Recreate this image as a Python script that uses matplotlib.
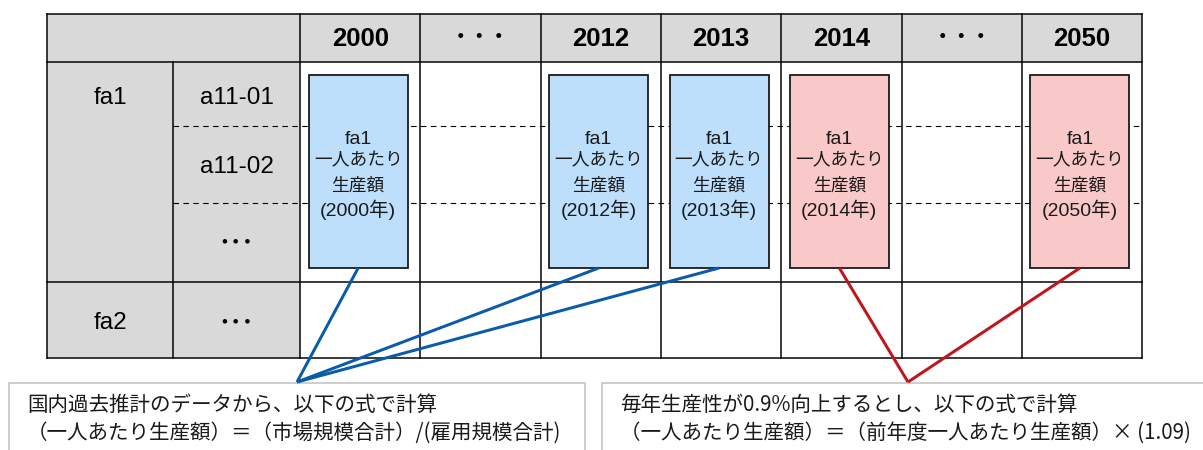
import matplotlib
matplotlib.use("Agg")
import matplotlib.pyplot as plt
from matplotlib.patches import Rectangle

# ---------------- data ----------------
col_labels = ["2000", "・・・", "2012", "2013", "2014", "・・・", "2050"]
group_labels = ["fa1", "fa2"]
sub_labels_fa1 = ["a11-01", "a11-02", "･･･"]
sub_labels_fa2 = ["･･･"]
box_years = ["2000", "2012", "2013", "2014", "2050"]
box_cols = [0, 2, 3, 4, 6]          # column index of each box
box_kind = ["past", "past", "past", "future", "future"]
box_lines = ["fa1", "一人あたり", "生産額", "({}年)"]
note_past = ["国内過去推計のデータから、以下の式で計算",
             "（一人あたり生産額）＝（市場規模合計）/(雇用規模合計)"]
note_future = ["毎年生産性が0.9%向上するとし、以下の式で計算",
               "（一人あたり生産額）＝（前年度一人あたり生産額）× (1.09)"]

# ---------------- layout (pixels) ----------------
W, H = 1203, 450
x_left, x_mid, x_data = 47, 173, 300
col_w = 120.3
y_top, y_head, y_mid, y_bot = 14, 62, 282, 358
dash_ys = [126, 203]
box_top, box_bot, box_w = 75, 268, 99
box_line_ys = [139, 161, 186, 210]
box_line_sizes = [14, 12.8, 12.8, 14]
note_top = 383

GRAY = "#D9D9D9"
BLUE_FILL = "#BDDFFC"
PINK_FILL = "#F9C8C9"
BLUE_LINE = "#0A5BAA"
RED_LINE = "#C0161B"
px = 0.72  # points per pixel

LAT = ["Liberation Sans", "Noto Sans CJK JP"]
CJK = ["Noto Sans CJK JP", "DejaVu Sans"]

fig = plt.figure(figsize=(W / 100, H / 100), dpi=100)
ax = fig.add_axes([0, 0, 1, 1])
ax.set_xlim(0, W)
ax.set_ylim(H, 0)
ax.axis("off")

ncol = len(col_labels)
x_right = x_data + ncol * col_w
col_x = [x_data + i * col_w for i in range(ncol + 1)]

# gray header areas
ax.add_patch(Rectangle((x_left, y_top), x_data - x_left, y_bot - y_top,
                       facecolor=GRAY, edgecolor="none", zorder=0))
ax.add_patch(Rectangle((x_data, y_top), x_right - x_data, y_head - y_top,
                       facecolor=GRAY, edgecolor="none", zorder=0))

lw_t = 1.5 * px
# dashed lines
for yd in dash_ys:
    ax.plot([x_mid, x_right], [yd, yd], color="black", lw=1.1 * px,
            ls=(0, (5, 4)), zorder=1)
# horizontal solid lines
for yy in [y_top, y_head, y_mid, y_bot]:
    ax.plot([x_left, x_right], [yy, yy], color="black", lw=lw_t, zorder=2,
            solid_capstyle="projecting")
# vertical lines
ax.plot([x_left, x_left], [y_top, y_bot], color="black", lw=lw_t, zorder=2)
ax.plot([x_mid, x_mid], [y_head, y_bot], color="black", lw=lw_t, zorder=2)
for xc in col_x:
    ax.plot([xc, xc], [y_top, y_bot], color="black", lw=lw_t, zorder=2)

# header labels
for i, lab in enumerate(col_labels):
    cx = x_data + (i + 0.5) * col_w
    if lab.startswith("・"):
        ax.text(cx, 38, lab, ha="center", va="center", fontsize=14,
                fontweight="bold", family=CJK, zorder=3)
    else:
        ax.text(cx, 39, lab, ha="center", va="center", fontsize=18.5,
                fontweight="bold", family=LAT, zorder=3)

# row labels
gx = (x_left + x_mid) / 2
sx = (x_mid + x_data) / 2
ax.text(gx, 98, group_labels[0], ha="center", va="center", fontsize=17.5,
        family=LAT, zorder=3)
ax.text(gx, 323, group_labels[1], ha="center", va="center", fontsize=17.5,
        family=LAT, zorder=3)
sub_ys = [98, 167, 242]
for lab, yy in zip(sub_labels_fa1, sub_ys):
    if lab.startswith("･"):
        ax.text(sx, yy, lab, ha="center", va="center", fontsize=17,
                fontweight="bold", family=CJK, zorder=3)
    else:
        ax.text(sx, yy, lab, ha="center", va="center", fontsize=17.5,
                family=LAT, zorder=3)
for lab in sub_labels_fa2:
    ax.text(sx, 322, lab, ha="center", va="center", fontsize=17,
            fontweight="bold", family=CJK, zorder=3)

# boxes
box_centers = []
for yr, ci, kind in zip(box_years, box_cols, box_kind):
    cx = x_data + (ci + 0.5) * col_w - 2
    box_centers.append(cx)
    fc = BLUE_FILL if kind == "past" else PINK_FILL
    ax.add_patch(Rectangle((cx - box_w / 2, box_top), box_w, box_bot - box_top,
                           facecolor=fc, edgecolor="#1a1a1a", lw=1.8 * px,
                           zorder=4))
    for line, ly, fs in zip(box_lines, box_line_ys, box_line_sizes):
        ax.text(cx, ly, line.format(yr), ha="center", va="center",
                fontsize=fs, family=LAT, color="#1a1a1a", zorder=5)

# connector lines
conv_past = (297, 382)
conv_future = (908, 382)
for cx, kind in zip(box_centers, box_kind):
    tgt, col = (conv_past, BLUE_LINE) if kind == "past" else (conv_future, RED_LINE)
    ax.plot([cx, tgt[0]], [box_bot, tgt[1]], color=col, lw=3 * px, zorder=6,
            solid_capstyle="butt")

# note boxes
ax.add_patch(Rectangle((9, note_top), 585 - 9, 100, facecolor="white",
                       edgecolor="#BFBFBF", lw=1.5 * px, zorder=1))
ax.add_patch(Rectangle((602, note_top), 700, 100, facecolor="white",
                       edgecolor="#BFBFBF", lw=1.5 * px, zorder=1))
for i, line in enumerate(note_past):
    ax.text(27, 405 + i * 28, line, ha="left", va="center", fontsize=14.8,
            family=CJK, color="#1a1a1a", zorder=3)
for i, line in enumerate(note_future):
    ax.text(620, 405 + i * 28, line, ha="left", va="center", fontsize=14.8,
            family=CJK, color="#1a1a1a", zorder=3)

fig.savefig("out.png", dpi=100)
